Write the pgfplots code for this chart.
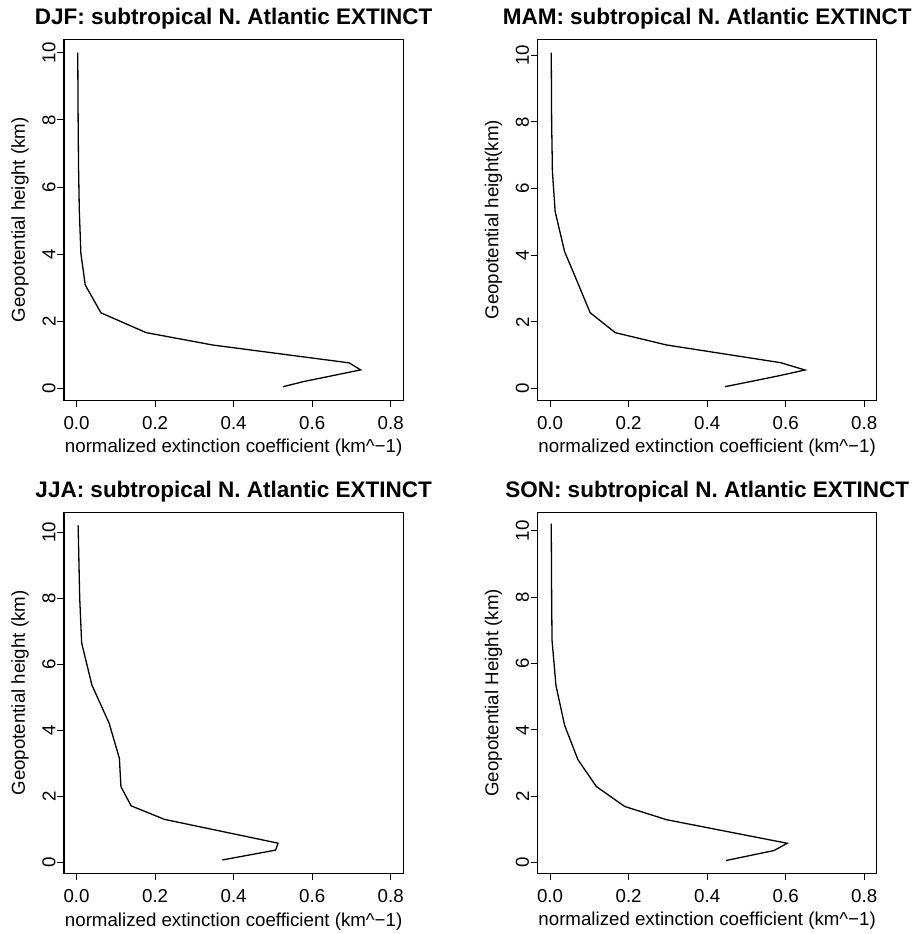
\documentclass[border=0pt]{standalone}
\usepackage{pgfplots}
\pgfplotsset{compat=1.18}
\usepackage{fontspec}
\setmainfont{Liberation Sans}
\newcommand{\lab}{\fontsize{18.7bp}{22bp}\selectfont}
\newcommand{\ttl}{\fontsize{22.5bp}{26bp}\selectfont\bfseries}
\pgfplotsset{
  panel/.style={
    width=339.3bp, height=360.7bp, scale only axis,
    xmin=-0.032, xmax=0.832,
    xtick={0,0.2,0.4,0.6,0.8}, xticklabels={0.0,0.2,0.4,0.6,0.8},
    ytick={0,2,4,6,8,10}, yticklabels={0,2,4,6,8,10},
    tick align=outside, major tick length=7bp,
    xtick pos=left, ytick pos=left,
    axis line style={line width=1bp},
    every tick/.style={black, line width=1bp},
    tick label style={font=\lab},
    /pgf/number format/assume math mode=true,
    xticklabel style={anchor=center, yshift=-16bp},
    yticklabel style={anchor=center, rotate=90},
    yticklabel shift=8bp,
    label style={font=\lab},
    xlabel style={at={(axis description cs:0.5,-0.133)}, anchor=center},
    ylabel style={at={(axis description cs:-0.1297,0.5)}, anchor=center},
    title style={at={(axis description cs:0.5,1.0410)}, anchor=center, font=\ttl},
    xlabel={normalized extinction coefficient (km\textasciicircum −1)},
  }
}
\begin{document}
\begin{tikzpicture}
\useasboundingbox (0,0) rectangle (916bp,-934bp);
% DJF
\begin{axis}[panel, at={(64bp,-39.3bp)}, anchor=north west,
  ymin=-0.336, ymax=10.40,
  title={DJF: subtropical N. Atlantic EXTINCT},
  ylabel={Geopotential height (km)}]
\addplot[black, line width=1.3bp, mark=none] coordinates {(0.526,0.06) (0.577,0.21) (0.7235,0.56) (0.694,0.77) (0.347,1.30) (0.177,1.67) (0.062,2.26) (0.022,3.09) (0.011,4.03) (0.007,5.3) (0.005,6.6) (0.004,8.0) (0.003,10.0)};
\end{axis}
% MAM
\begin{axis}[panel, at={(537.5bp,-39.3bp)}, anchor=north west,
  ymin=-0.34, ymax=10.48,
  title={MAM: subtropical N. Atlantic EXTINCT},
  ylabel={Geopotential height(km)}]
\addplot[black, line width=1.3bp, mark=none] coordinates {(0.446,0.06) (0.58,0.38) (0.649,0.56) (0.587,0.78) (0.297,1.31) (0.166,1.68) (0.102,2.28) (0.071,3.16) (0.037,4.11) (0.013,5.31) (0.006,6.5) (0.004,8.0) (0.003,10.08)};
\end{axis}
% JJA
\begin{axis}[panel, at={(64bp,-512.6bp)}, anchor=north west,
  ymin=-0.333, ymax=10.59,
  title={JJA: subtropical N. Atlantic EXTINCT},
  ylabel={Geopotential height (km)}]
\addplot[black, line width=1.3bp, mark=none] coordinates {(0.371,0.07) (0.507,0.37) (0.513,0.58) (0.224,1.30) (0.139,1.71) (0.113,2.29) (0.109,3.15) (0.083,4.21) (0.039,5.37) (0.013,6.64) (0.008,8.0) (0.004,10.2)};
\end{axis}
% SON
\begin{axis}[panel, at={(537.5bp,-512.4bp)}, anchor=north west,
  ymin=-0.32, ymax=10.56,
  title={SON: subtropical N. Atlantic EXTINCT},
  ylabel={Geopotential Height (km)}]
\addplot[black, line width=1.3bp, mark=none] coordinates {(0.448,0.06) (0.570,0.36) (0.604,0.58) (0.297,1.29) (0.190,1.69) (0.118,2.29) (0.071,3.10) (0.037,4.14) (0.015,5.34) (0.005,6.70) (0.004,8.0) (0.003,10.22)};
\end{axis}
\end{tikzpicture}
\end{document}
